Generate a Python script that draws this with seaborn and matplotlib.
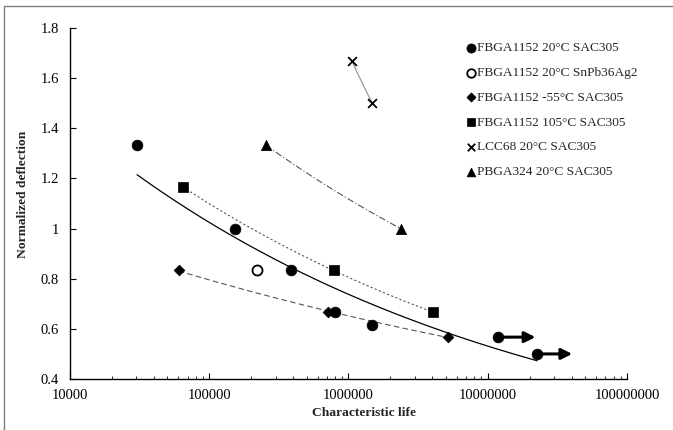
import numpy as np
import pandas as pd
import matplotlib
matplotlib.use("Agg")
import matplotlib.pyplot as plt
from matplotlib.lines import Line2D
import seaborn as sns

# ---- data ----
sac_20_x = [30300, 153000, 384000, 798000, 1470000, 11900000, 22600000]
sac_20_y = [1.333, 1.0, 0.833, 0.667, 0.615, 0.567, 0.5]
snpb_20_x = [219000]
snpb_20_y = [0.833]
sac_m55_x = [60300, 714000, 5200000]
sac_m55_y = [0.833, 0.667, 0.567]
sac_105_x = [64400, 785000, 4020000]
sac_105_y = [1.166, 0.833, 0.667]
lcc_x = [1060000, 1480000]
lcc_y = [1.667, 1.5]
pbga_x = [255000, 2370000]
pbga_y = [1.333, 1.0]
# run-outs (arrows) from the last two SAC305 20°C points
arrow_from_x = [11900000, 22600000]
arrow_from_y = [0.567, 0.5]
arrow_to_x = [22000000, 40400000]

labels = ["FBGA1152 20°C SAC305", "FBGA1152 20°C SnPb36Ag2",
          "FBGA1152 -55°C SAC305", "FBGA1152 105°C SAC305",
          "LCC68 20°C SAC305", "PBGA324 20°C SAC305"]
x_ticks = [10000, 100000, 1000000, 10000000, 100000000]
y_ticks = [0.4, 0.6, 0.8, 1.0, 1.2, 1.4, 1.6, 1.8]

sns.set_theme(style="white")
plt.rcParams["font.family"] = ["Liberation Serif", "DejaVu Serif"]
plt.rcParams["font.size"] = 9.5

fig = plt.figure(figsize=(6.73, 4.30), dpi=100)
ax = fig.add_axes([70/673, 1-379/430, (627-70)/673, (379-28)/430])


def power_fit(xv, yv, color, ls, lw):
    b, a = np.polyfit(np.log(xv), np.log(yv), 1)
    xs = np.geomspace(min(xv), max(xv), 200)
    ys = np.exp(a + b*np.log(xs))
    sns.lineplot(x=xs, y=ys, ax=ax, color=color, linestyle=ls, lw=lw,
                 sort=False, zorder=2)


power_fit(sac_20_x, sac_20_y, "black", "-", 0.9)
power_fit(sac_m55_x, sac_m55_y, "#555555", (0, (5, 3)), 0.8)
power_fit(sac_105_x, sac_105_y, "#555555", (0, (2, 2)), 0.8)
power_fit(lcc_x, lcc_y, "#999999", "-", 0.9)
power_fit(pbga_x, pbga_y, "#555555", (0, (6, 2, 1, 2)), 0.8)

for x0, y0, x1 in zip(arrow_from_x, arrow_from_y, arrow_to_x):
    ax.annotate("", xy=(x1, y0), xytext=(x0, y0),
                arrowprops=dict(arrowstyle="-|>", color="black", lw=2.2,
                                mutation_scale=16, shrinkA=0, shrinkB=0),
                zorder=3)

kw = dict(ax=ax, zorder=4, legend=True)
sns.scatterplot(x=sac_20_x, y=sac_20_y, marker="o", s=60, color="black",
                edgecolor="black", linewidth=0.5, label=labels[0], **kw)
sns.scatterplot(x=snpb_20_x, y=snpb_20_y, marker="o", s=52, facecolor="white",
                edgecolor="black", linewidth=1.3, label=labels[1], **kw)
sns.scatterplot(x=sac_m55_x, y=sac_m55_y, marker="D", s=30, color="black",
                edgecolor="black", linewidth=0.5, label=labels[2], **kw)
sns.scatterplot(x=sac_105_x, y=sac_105_y, marker="s", s=55, color="black",
                edgecolor="black", linewidth=0.5, label=labels[3], **kw)
sns.scatterplot(x=lcc_x, y=lcc_y, marker="x", s=40, color="black",
                linewidth=1.3, label=labels[4], **kw)
sns.scatterplot(x=pbga_x, y=pbga_y, marker="^", s=55, color="black",
                edgecolor="black", linewidth=0.5, label=labels[5], **kw)

ax.set_xscale("log")
ax.set_xlim(x_ticks[0], x_ticks[-1])
ax.set_ylim(y_ticks[0], y_ticks[-1])
ax.set_xticks(x_ticks)
ax.set_xticklabels([str(v) for v in x_ticks])
ax.set_yticks(y_ticks)
ax.set_yticklabels([f"{v:g}" for v in y_ticks])
ax.xaxis.set_minor_locator(matplotlib.ticker.LogLocator(base=10, subs=np.arange(2, 10)))
ax.xaxis.set_minor_formatter(matplotlib.ticker.NullFormatter())
ax.tick_params(axis="both", which="major", direction="in", length=4, width=0.8,
               color="black", labelsize=10.5, labelcolor="black", pad=6)
ax.tick_params(axis="x", which="major", pad=7)
ax.tick_params(axis="y", which="major", pad=8)
ax.tick_params(axis="x", which="minor", direction="in", length=2.5, width=0.6,
               color="black", bottom=True)
ax.tick_params(axis="x", which="both", bottom=True)
ax.tick_params(axis="y", which="major", left=True)
for side in ["top", "right"]:
    ax.spines[side].set_visible(False)
for side in ["left", "bottom"]:
    ax.spines[side].set_color("black")
    ax.spines[side].set_linewidth(1.0)
ax.grid(False)

ax.set_xlabel("Characteristic life", fontweight="bold", fontsize=9.7)
ax.set_ylabel("Normalized deflection", fontweight="bold", fontsize=9.7)
ax.xaxis.set_label_coords(0.528, -0.080)
ax.yaxis.set_label_coords(-0.074, 0.526)

leg = ax.legend(loc="upper left", bbox_to_anchor=(467/673, 1-42/430),
                bbox_transform=fig.transFigure, frameon=False,
                handlelength=0.6, handletextpad=0.12, labelspacing=0.93,
                markerscale=0.85, borderpad=0, borderaxespad=0, fontsize=9.6)

# figure border (top and left edges visible)
fig.add_artist(Line2D([4/673, 1], [1-6/430, 1-6/430], transform=fig.transFigure,
                      color="#7f7f7f", lw=1.0))
fig.add_artist(Line2D([4/673, 4/673], [0, 1-6/430], transform=fig.transFigure,
                      color="#7f7f7f", lw=1.0))

fig.savefig("out.png", dpi=100)
